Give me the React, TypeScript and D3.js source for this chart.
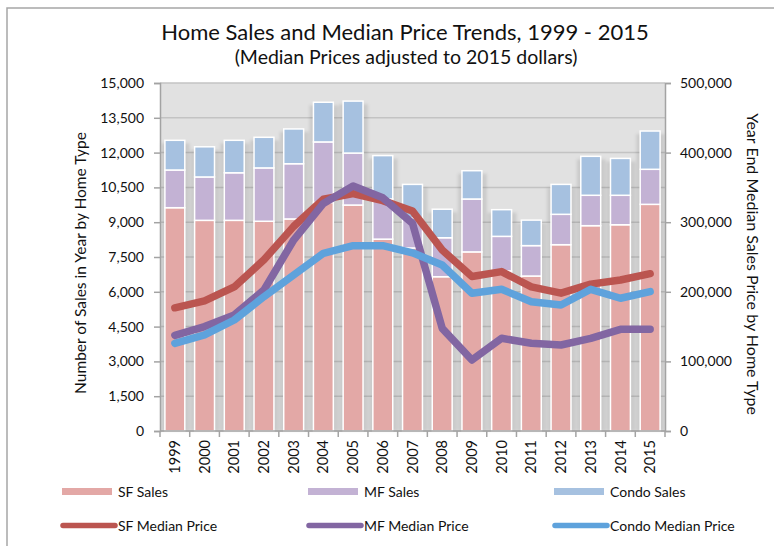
import { useEffect, useRef } from 'react';
import * as d3 from 'd3';

const years = ['1999', '2000', '2001', '2002', '2003', '2004', '2005', '2006', '2007', '2008', '2009', '2010', '2011', '2012', '2013', '2014', '2015'];
const sfSales = [9625, 9080, 9080, 9040, 9140, 9850, 9740, 8270, 7890, 6650, 7720, 6900, 6680, 8030, 8850, 8890, 9770];
const mfSales = [1625, 1870, 2050, 2300, 2380, 2610, 2240, 1730, 1290, 1680, 2280, 1490, 1310, 1310, 1310, 1270, 1510];
const condoSales = [1280, 1300, 1400, 1320, 1500, 1710, 2240, 1870, 1450, 1230, 1220, 1150, 1100, 1290, 1680, 1590, 1650];
const sfPrice = [177000, 187000, 207000, 246000, 294000, 333000, 341000, 331000, 316000, 260000, 222000, 229000, 207000, 198000, 211000, 217000, 226000];
const mfPrice = [137500, 150000, 166700, 202600, 274400, 327000, 352000, 335000, 298400, 147500, 102000, 133200, 126000, 123600, 133200, 146100, 146100];
const condoPrice = [126000, 138000, 159500, 193000, 224100, 255300, 266300, 266300, 256000, 238500, 197800, 203600, 185800, 181000, 203600, 190700, 200200];
const salesTicks = [0, 1500, 3000, 4500, 6000, 7500, 9000, 10500, 12000, 13500, 15000];
const priceTicks = [0, 100000, 200000, 300000, 400000, 500000];

const barColors = ['#e3a8a6', '#c3b2d4', '#a6c1e0'];
const lineColors = ['#bb5550', '#8266a2', '#5ea2dc'];

export default function App() {
  const svgRef = useRef<SVGSVGElement>(null);

  useEffect(() => {
    if (!svgRef.current) return;
    const svg = d3.select(svgRef.current);
    svg.selectAll('*').remove();

    const font = 'Lato, "Open Sans", sans-serif';
    const left = 160, right = 665, top = 83, bottom = 431;

    const x = d3.scaleBand<string>().domain(years).range([left, right]).paddingInner(0.33).paddingOuter(0.165);
    const y = d3.scaleLinear().domain([0, 15000]).range([bottom, top]);
    const yR = d3.scaleLinear().domain([0, 500000]).range([bottom, top]);
    const bw = x.bandwidth();
    const step = x.step();

    const defs = svg.append('defs');
    defs.append('filter').attr('id', 'blur').attr('x', '-50%').attr('y', '-10%').attr('width', '200%').attr('height', '120%')
      .append('feGaussianBlur').attr('stdDeviation', 1.8);

    // outer frame
    svg.append('rect').attr('x', 7).attr('y', 8).attr('width', 800).attr('height', 600)
      .attr('fill', '#fff').attr('stroke', '#a6a6a6').attr('stroke-width', 1.5);

    // titles
    svg.append('text').attr('x', 405).attr('y', 40).attr('text-anchor', 'middle')
      .attr('font-family', font).attr('font-size', 22).attr('fill', '#111')
      .text('Home Sales and Median Price Trends, 1999 - 2015');
    svg.append('text').attr('x', 406).attr('y', 64).attr('text-anchor', 'middle')
      .attr('font-family', font).attr('font-size', 19.5).attr('fill', '#111')
      .text('(Median Prices adjusted to 2015 dollars)');

    // plot background
    svg.append('rect').attr('x', left).attr('y', top).attr('width', right - left).attr('height', bottom - top).attr('fill', '#e1e1e1');

    // gridlines
    svg.append('g').selectAll('line').data(salesTicks).join('line')
      .attr('x1', left).attr('x2', right).attr('y1', d => y(d)).attr('y2', d => y(d))
      .attr('stroke', '#c3c3c3').attr('stroke-width', 1.5);

    const stacks = years.map((yr, i) => {
      const a = sfSales[i], b = a + mfSales[i], c = b + condoSales[i];
      return { yr, segs: [[0, a], [a, b], [b, c]] };
    });

    // bar shadows
    svg.append('g').attr('filter', 'url(#blur)').selectAll('rect').data(stacks).join('rect')
      .attr('x', d => x(d.yr)! - (step - bw) / 2 + 1)
      .attr('width', step - 1)
      .attr('y', d => y(d.segs[2][1]) + 3)
      .attr('height', d => bottom - y(d.segs[2][1]) - 3)
      .attr('fill', '#000').attr('opacity', 0.1);

    // bars
    const barG = svg.append('g');
    stacks.forEach(s => {
      s.segs.forEach((seg, k) => {
        barG.append('rect')
          .attr('x', x(s.yr)!)
          .attr('width', bw)
          .attr('y', y(seg[1]))
          .attr('height', y(seg[0]) - y(seg[1]))
          .attr('fill', barColors[k])
          .attr('stroke', '#fff').attr('stroke-width', 1.5);
      });
    });

    // lines
    const line = d3.line<number>().x((_, i) => x(years[i])! + bw / 2).y(d => yR(d));
    [sfPrice, mfPrice, condoPrice].forEach((series, k) => {
      svg.append('path').attr('d', line(series)!)
        .attr('fill', 'none').attr('stroke', lineColors[k]).attr('stroke-width', 7.5)
        .attr('stroke-linejoin', 'round').attr('stroke-linecap', 'round');
    });

    // left axis
    const axisColor = '#a3a3a3';
    svg.append('g').attr('transform', `translate(${left},0)`)
      .call(d3.axisLeft(y).tickValues(salesTicks).tickFormat(d3.format(',') as any).tickSize(6).tickPadding(10))
      .call(g => g.select('.domain').attr('stroke', axisColor).attr('stroke-width', 1.5))
      .call(g => g.selectAll('.tick line').attr('stroke', axisColor).attr('stroke-width', 1.5))
      .call(g => g.selectAll('.tick text').attr('font-family', font).attr('font-size', 14).attr('fill', '#111'));

    // right axis
    svg.append('g').attr('transform', `translate(${right},0)`)
      .call(d3.axisRight(yR).tickValues(priceTicks).tickFormat(d3.format(',') as any).tickSize(6).tickPadding(9))
      .call(g => g.select('.domain').attr('stroke', axisColor).attr('stroke-width', 1.5))
      .call(g => g.selectAll('.tick line').attr('stroke', axisColor).attr('stroke-width', 1.5))
      .call(g => g.selectAll('.tick text').attr('font-family', font).attr('font-size', 14).attr('fill', '#111'));

    // x axis
    const xg = svg.append('g');
    xg.append('line').attr('x1', left).attr('x2', right).attr('y1', bottom).attr('y2', bottom)
      .attr('stroke', axisColor).attr('stroke-width', 1.5);
    xg.selectAll('line.t').data(d3.range(years.length + 1)).join('line').attr('class', 't')
      .attr('x1', i => left + i * step).attr('x2', i => left + i * step)
      .attr('y1', bottom).attr('y2', bottom + 6)
      .attr('stroke', axisColor).attr('stroke-width', 1.5);
    xg.selectAll('text').data(years).join('text')
      .attr('transform', d => `translate(${x(d)! + bw / 2},440) rotate(-90)`)
      .attr('text-anchor', 'end').attr('dy', '0.35em')
      .attr('font-family', font).attr('font-size', 14.5).attr('fill', '#111')
      .text(d => d);

    // axis titles
    svg.append('text').attr('transform', 'translate(86,263) rotate(-90)').attr('text-anchor', 'middle')
      .attr('font-family', font).attr('font-size', 15.5).attr('fill', '#111')
      .text('Number of Sales in Year by Home Type');
    svg.append('text').attr('transform', 'translate(747,264) rotate(90)').attr('text-anchor', 'middle')
      .attr('font-family', font).attr('font-size', 16).attr('fill', '#111')
      .text('Year End Median Sales Price by Home Type');

    // legend
    const legX = [62, 308, 554];
    const barNames = ['SF Sales', 'MF Sales', 'Condo Sales'];
    const lineNames = ['SF Median Price', 'MF Median Price', 'Condo Median Price'];
    const leg = svg.append('g').attr('font-family', font).attr('font-size', 14).attr('fill', '#111');
    legX.forEach((lx, k) => {
      leg.append('rect').attr('x', lx).attr('y', 488).attr('width', 50).attr('height', 7).attr('fill', barColors[k]);
      leg.append('text').attr('x', lx + 56).attr('y', 497).text(barNames[k]);
      leg.append('line').attr('x1', lx + 1).attr('x2', lx + 53).attr('y1', 525.5).attr('y2', 525.5)
        .attr('stroke', lineColors[k]).attr('stroke-width', 5.5).attr('stroke-linecap', 'round');
      leg.append('text').attr('x', lx + 56).attr('y', 531).text(lineNames[k]);
    });
  }, []);

  return (
    <svg ref={svgRef} width={774} height={546} style={{ position: 'absolute', left: 0, top: 0 }}></svg>
  );
}
